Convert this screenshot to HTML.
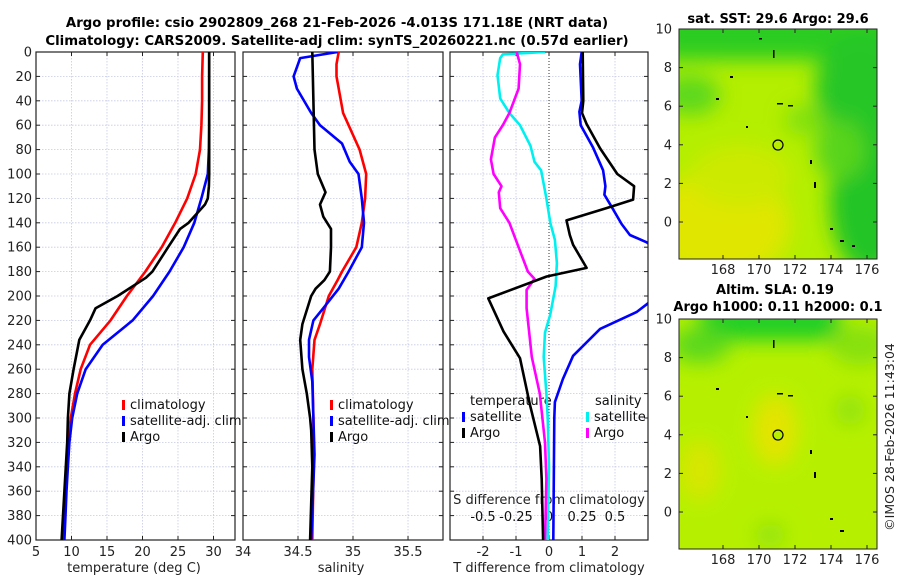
<!DOCTYPE html>
<html><head><meta charset="utf-8"><style>
html,body{margin:0;padding:0;background:#fff;width:900px;height:580px;overflow:hidden}
svg{display:block;font-family:"DejaVu Sans","Liberation Sans",sans-serif}
</style></head><body>
<svg id="fig" width="900" height="580" xmlns="http://www.w3.org/2000/svg">
<defs>
<filter id="blur8" x="-50%" y="-50%" width="200%" height="200%"><feGaussianBlur stdDeviation="10"/></filter>
<clipPath id="clipTop"><rect x="679" y="29" width="198" height="230"/></clipPath>
<clipPath id="clipBot"><rect x="679" y="319" width="198" height="230"/></clipPath>
<clipPath id="clipP1"><rect x="36" y="52" width="199" height="488"/></clipPath>
<clipPath id="clipP2"><rect x="243" y="52" width="200" height="488"/></clipPath>
<clipPath id="clipP3"><rect x="450" y="52" width="198" height="488"/></clipPath>
</defs>
<text x="337" y="27" font-size="13.3" font-weight="bold" text-anchor="middle">Argo profile: csio 2902809_268 21-Feb-2026 -4.013S 171.18E (NRT data)</text>
<text x="337" y="45" font-size="13.3" font-weight="bold" text-anchor="middle">Climatology: CARS2009. Satellite-adj clim: synTS_20260221.nc (0.57d earlier)</text>

<!-- maps -->
<g clip-path="url(#clipTop)">
<rect x="679" y="29" width="198" height="230" fill="#b4ee00"/>
<g filter="url(#blur8)">
<ellipse cx="720" cy="225" rx="70" ry="55" fill="#e0e600"/>
<ellipse cx="740" cy="175" rx="50" ry="30" fill="#ccea00"/>
<rect x="660" y="10" width="240" height="50" fill="#2ccc24"/>
<ellipse cx="690" cy="95" rx="30" ry="20" fill="#5cd81a"/>
<ellipse cx="860" cy="90" rx="45" ry="55" fill="#28c628"/>
<ellipse cx="870" cy="200" rx="40" ry="75" fill="#20c426"/>
<ellipse cx="840" cy="150" rx="25" ry="30" fill="#58d41c"/>
<ellipse cx="805" cy="120" rx="20" ry="15" fill="#80e010"/>
</g>
<circle cx="778" cy="145" r="5" fill="none" stroke="#000" stroke-width="1.2"/>
<g fill="#000"><rect x="777" y="103" width="6" height="1.5"/><rect x="788" y="105" width="5" height="1.5"/><rect x="716" y="98" width="3" height="2"/><rect x="746" y="126" width="2" height="2"/><rect x="730" y="76" width="3" height="2"/><rect x="810" y="160" width="2" height="4"/><rect x="814" y="182" width="2" height="6"/><rect x="830" y="228" width="3" height="2"/><rect x="840" y="240" width="4" height="2"/><rect x="852" y="245" width="3" height="2"/><rect x="773" y="50" width="1.5" height="8"/><rect x="759" y="38" width="3" height="1.5"/></g>
</g>
<g clip-path="url(#clipBot)">
<rect x="679" y="319" width="198" height="230" fill="#b6f000"/>
<g filter="url(#blur8)">
<rect x="700" y="305" width="140" height="35" fill="#1ece28"/>
<ellipse cx="700" cy="345" rx="30" ry="18" fill="#5ad81c"/>
<ellipse cx="775" cy="430" rx="22" ry="35" fill="#e4e400"/>
<ellipse cx="700" cy="470" rx="20" ry="30" fill="#d8e600"/>
<ellipse cx="860" cy="345" rx="30" ry="20" fill="#86e010"/>
<ellipse cx="850" cy="410" rx="15" ry="15" fill="#90e20c"/>
<ellipse cx="770" cy="535" rx="15" ry="12" fill="#90e20c"/>
</g>
<circle cx="778" cy="435" r="5" fill="#b8ee00" stroke="#000" stroke-width="1.2"/>
<g fill="#000"><rect x="777" y="393" width="6" height="1.5"/><rect x="788" y="395" width="5" height="1.5"/><rect x="716" y="388" width="3" height="2"/><rect x="746" y="416" width="2" height="2"/><rect x="810" y="450" width="2" height="4"/><rect x="814" y="472" width="2" height="6"/><rect x="830" y="518" width="3" height="2"/><rect x="840" y="530" width="4" height="2"/><rect x="773" y="340" width="1.5" height="8"/></g>
</g>
<text x="778" y="23" font-size="13" font-weight="bold" text-anchor="middle">sat. SST: 29.6 Argo: 29.6</text>
<text x="775" y="294" font-size="13" font-weight="bold" text-anchor="middle">Altim. SLA: 0.19</text>
<text x="778" y="311" font-size="13" font-weight="bold" text-anchor="middle">Argo h1000: 0.11 h2000: 0.1</text>
<text transform="translate(894,437) rotate(-90)" font-size="12.5" text-anchor="middle" fill="#222">©IMOS 28-Feb-2026 11:43:04</text>
<g id="axes"></g>
</svg>
<script>
const depthsT = [0,20,40,60,80,100,120,140,160,180,200,220,240,260,280,300,320,340,360,380,400];
const climT = [28.5,28.4,28.4,28.3,28.1,27.5,26.3,24.6,22.7,20.4,17.8,15.5,12.6,11.3,10.5,9.9,9.5,9.3,9.1,9.0,8.85];
const satT  = [29.4,29.4,29.4,29.4,29.35,29.2,28.3,27.3,25.8,23.8,21.5,18.6,14.4,12.0,10.8,10.1,9.7,9.5,9.3,9.15,9.0];
const argoTdepths = [0,50,100,110,120,125,140,145,160,180,185,200,210,220,236,260,280,300,320,360,400];
const argoT = [29.4,29.4,29.4,29.35,29.2,28.8,26.5,25.3,23.6,21.4,20.5,16.5,13.4,12.6,11.1,10.3,9.7,9.5,9.4,9.0,8.6];

const climSdepths = [0,10,20,50,60,80,100,120,140,160,180,187,200,223,236,260,300,350,400];
const climS = [34.87,34.85,34.85,34.91,34.96,35.06,35.12,35.11,35.08,35.03,34.90,34.86,34.78,34.70,34.65,34.63,34.64,34.64,34.63];
const satSdepths = [0,5,20,30,50,60,75,90,100,120,140,160,180,194,210,220,236,250,270,300,330,400];
const satS = [34.86,34.52,34.46,34.49,34.62,34.70,34.90,34.97,35.05,35.08,35.10,35.08,34.96,34.87,34.73,34.64,34.60,34.60,34.63,34.64,34.65,34.62];
const argoSdepths = [0,80,100,115,125,135,145,160,180,187,194,200,223,236,260,280,300,310,340,400];
const argoS = [34.63,34.65,34.68,34.75,34.70,34.73,34.80,34.80,34.79,34.74,34.66,34.62,34.54,34.52,34.54,34.58,34.61,34.62,34.63,34.61];

const dSatSdepths = [0,2,5,19,38,50,60,77,90,97,120,140,154,173,192,215,230,250,280,300,340,400];
const dSatS = [-0.03,-0.35,-0.37,-0.39,-0.37,-0.30,-0.22,-0.14,-0.11,-0.06,-0.02,0.01,0.045,0.06,0.05,0.01,-0.03,-0.04,-0.02,-0.01,0,-0.01];
const dArgoSdepths = [0,10,30,50,60,70,88,100,110,115,128,140,160,180,186,195,210,250,280,320,350,400];
const dArgoS = [-0.245,-0.22,-0.23,-0.30,-0.35,-0.41,-0.44,-0.42,-0.36,-0.38,-0.37,-0.30,-0.23,-0.16,-0.11,-0.17,-0.17,-0.13,-0.07,-0.03,-0.02,-0.03];
const dSatTdepths = [0,10,40,49,60,78,97,110,117,127,141,150,156,180,206,213,227,249,268,287,300,400];
const dSatT = [0.99,0.94,0.99,0.92,0.96,1.33,1.64,1.71,1.68,1.9,2.2,2.45,2.96,4.2,3.0,2.66,1.55,0.73,0.42,0.18,0.16,0.13];
const dArgoTdepths = [0,40,50,59,79,100,110,121,128,138,150,158,177,184,202,229,251,289,323,350,400];
const dArgoT = [1.02,1.04,1.0,1.14,1.55,2.07,2.58,2.55,1.73,0.53,0.63,0.73,1.14,-0.07,-1.84,-1.38,-0.88,-0.58,-0.27,-0.22,-0.18];

const depthTicks = [0,20,40,60,80,100,120,140,160,180,200,220,240,260,280,300,320,340,360,380,400];
const tTicks = [5,10,15,20,25,30];
const sTicks = [34,34.5,35,35.5];
const dTTicks = [-2,-1,0,1,2];
const dSTicks = [-0.5,-0.25,0,0.25,0.5];
const sTickLabels = ["-0.5","-0.25","0","0.25","0.5"];
const latTicks = [0,2,4,6,8,10];
const lonTicks = [168,170,172,174,176];

const NS="http://www.w3.org/2000/svg";
const FS=13;
const root=document.getElementById('axes');
function el(tag,attrs,parent,txt){const e=document.createElementNS(NS,tag);for(const k in attrs)e.setAttribute(k,attrs[k]);if(txt!==undefined)e.textContent=txt;(parent||root).appendChild(e);return e;}
const Y0=52,Y1=540;
const yD=d=>Y0+(d/400)*(Y1-Y0);
function panel(x0,x1,xmin,xmax){return v=>x0+(v-xmin)/(xmax-xmin)*(x1-x0);}
const xT=panel(36,235,5,33.03);
const xS=panel(243,443,34,35.818);
const xDT=panel(450,648,-3,3);
const xDS=v=>549+v*132;

function frame(x0,x1,gridX,xf,name,leftLabels){
  const g=el('g',{});
  
  
  for(const d of depthTicks){ if(d>0&&d<400) el('line',{x1:x0,x2:x1,y1:yD(d),y2:yD(d),stroke:'#c5c9e4','stroke-width':0.8,'stroke-dasharray':'1.5,1.5'},g);}
  for(const v of gridX){const x=xf(v); if(x>x0+1&&x<x1-1) el('line',{x1:x,x2:x,y1:Y0,y2:Y1,stroke:'#c5c9e4','stroke-width':0.8,'stroke-dasharray':'1.5,1.5'},g);}
  for(const d of depthTicks){const y=yD(d);el('line',{x1:x0,x2:x0+4,y1:y,y2:y,stroke:'#222'},g);el('line',{x1:x1-4,x2:x1,y1:y,y2:y,stroke:'#222'},g);
    if(leftLabels){const t=el('text',{x:x0-4,y:y+4.5,'font-size':FS,'text-anchor':'end',fill:'#222'},g,String(d));}}
  el('rect',{x:x0,y:Y0,width:x1-x0,height:Y1-Y0,fill:'none',stroke:'#222','stroke-width':1.2},g);
  return g;
}
function line(xf,xs,ds,color,clip,name){
  const pts=xs.map((v,i)=>xf(v).toFixed(1)+','+yD(ds[i]).toFixed(1)).join(' ');
  const p=el('polyline',{points:pts,fill:'none',stroke:color,'stroke-width':2.6,'stroke-linejoin':'round','clip-path':'url(#'+clip+')'});
  
  
}
function xlabels(vals,labels,xf,y,g){vals.forEach((v,i)=>{const t=el('text',{x:xf(v),y:y,'font-size':FS,'text-anchor':'middle',fill:'#222'},g,labels[i]);
  if(y>545){el('line',{x1:xf(v),x2:xf(v),y1:Y1,y2:Y1-4,stroke:'#222'},g);el('line',{x1:xf(v),x2:xf(v),y1:Y0,y2:Y0+4,stroke:'#222'},g);}});}
function legend(x,y,items,g){items.forEach((it,i)=>{const yy=y+i*16;el('rect',{x:x,y:yy-9,width:3,height:10,fill:it[1]},g);const t=el('text',{x:x+8,y:yy,'font-size':FS,fill:'#111'},g,it[0]);});}

// Panel 1
const g1=frame(36,235,tTicks,xT,'temperature-panel',true);
line(xT,climT,depthsT,'#f00','clipP1','clim-temperature-line');
line(xT,satT,depthsT,'#00f','clipP1','sat-temperature-line');
line(xT,argoT,argoTdepths,'#000','clipP1','argo-temperature-line');
xlabels(tTicks,tTicks.map(String),xT,556,g1);
let t=el('text',{x:134,y:572,'font-size':FS,'text-anchor':'middle',fill:'#222'},g1,'temperature (deg C)');
legend(122,409,[['climatology','#f00'],['satellite-adj. clim','#00f'],['Argo','#000']],g1);

// Panel 2
const g2=frame(243,443,sTicks,xS,'salinity-panel',false);
line(xS,climS,climSdepths,'#f00','clipP2','clim-salinity-line');
line(xS,satS,satSdepths,'#00f','clipP2','sat-salinity-line');
line(xS,argoS,argoSdepths,'#000','clipP2','argo-salinity-line');
xlabels(sTicks,sTicks.map(String),xS,556,g2);
t=el('text',{x:341,y:572,'font-size':FS,'text-anchor':'middle',fill:'#222'},g2,'salinity');
legend(330,409,[['climatology','#f00'],['satellite-adj. clim','#00f'],['Argo','#000']],g2);

// Panel 3
const g3=frame(450,648,dTTicks.filter(v=>v!==0),xDT,'difference-panel',false);
el('line',{x1:549,x2:549,y1:Y0,y2:Y1,stroke:'#333','stroke-width':1,'stroke-dasharray':'1,2'},g3);
line(xDS,dSatS,dSatSdepths,'#00f0f0','clipP3','sat-salinity-diff-line');
line(xDS,dArgoS,dArgoSdepths,'#f0f','clipP3','argo-salinity-diff-line');
line(xDT,dSatT,dSatTdepths,'#00f','clipP3','sat-temperature-diff-line');
line(xDT,dArgoT,dArgoTdepths,'#000','clipP3','argo-temperature-diff-line');
xlabels(dTTicks,dTTicks.map(String),xDT,556,g3);
t=el('text',{x:549,y:572,'font-size':FS,'text-anchor':'middle',fill:'#222'},g3,'T difference from climatology');
t=el('text',{x:549,y:504,'font-size':FS,'text-anchor':'middle',fill:'#222'},g3,'S difference from climatology');
dSTicks.forEach((v,i)=>{const tt=el('text',{x:xDS(v),y:521,'font-size':FS,'text-anchor':'middle',fill:'#111'},g3,sTickLabels[i]);});
t=el('text',{x:470,y:405,'font-size':FS,fill:'#111'},g3,'temperature');
t=el('text',{x:595,y:405,'font-size':FS,fill:'#111'},g3,'salinity');
legend(462,421,[['satellite','#00f'],['Argo','#000']],g3);
legend(586,421,[['satellite','#00f0f0'],['Argo','#f0f']],g3);

// map axes
function mapAxes(top,name){
  const g=el('g',{});
  
  
  const yL=l=>top+(10-l)*19.3, xL=o=>723+(o-168)*18;
  el('rect',{x:679,y:top,width:198,height:230,fill:'none',stroke:'#222','stroke-width':1},g);
  latTicks.forEach(l=>{const y=yL(l);el('line',{x1:679,x2:683,y1:y,y2:y,stroke:'#222'},g);el('line',{x1:873,x2:877,y1:y,y2:y,stroke:'#222'},g);
    const tt=el('text',{x:672,y:y+4.5,'font-size':FS,'text-anchor':'end',fill:'#222'},g,String(l));});
  lonTicks.forEach(o=>{const x=xL(o);el('line',{x1:x,x2:x,y1:top+230,y2:top+226,stroke:'#222'},g);el('line',{x1:x,x2:x,y1:top,y2:top+4,stroke:'#222'},g);
    const tt=el('text',{x:x,y:top+245,'font-size':FS,'text-anchor':'middle',fill:'#222'},g,String(o));});
}
mapAxes(29,'sst-map-axes');
mapAxes(319,'sla-map-axes');
</script>
</body></html>
